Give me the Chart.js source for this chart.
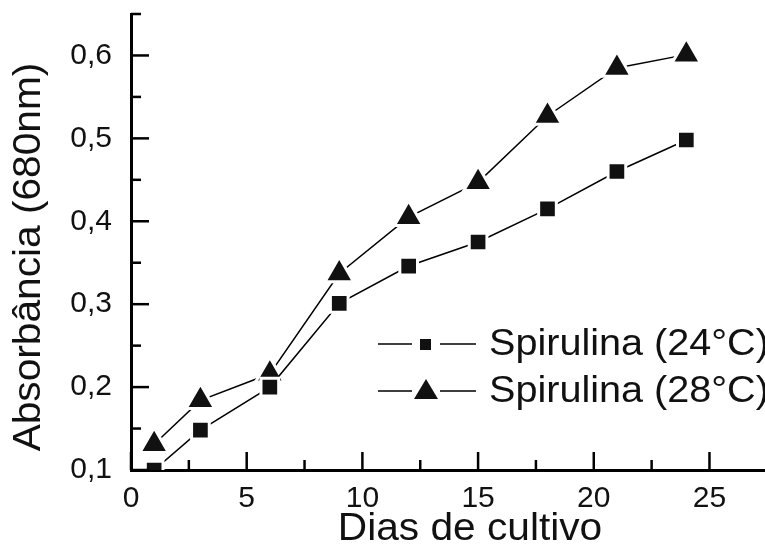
<!DOCTYPE html>
<html>
<head>
<meta charset="utf-8">
<script src="https://cdn.jsdelivr.net/npm/chart.js@4"></script>
<style>
  html, body { margin: 0; padding: 0; background: #fff; overflow: hidden; }
  #wrap { width: 765px; height: 555px; }
</style>
</head>
<body>
<div id="wrap"><canvas id="chart"></canvas></div>
<script>
'use strict';

// data
let dias = [1, 3, 6, 9, 12, 15, 18, 21, 24];
let spir24 = [0.100, 0.148, 0.200, 0.301, 0.346, 0.375, 0.415, 0.460, 0.498];
let spir28 = [0.131, 0.184, 0.216, 0.337, 0.405, 0.447, 0.527, 0.585, 0.601];
let xTicks = [0, 5, 10, 15, 20, 25];
let yTicks = [0.1, 0.2, 0.3, 0.4, 0.5, 0.6];
let seriesNames = ['Spirulina (24°C)', 'Spirulina (28°C)'];
let xTitle = 'Dias de cultivo';
let yTitle = 'Absorbância (680nm)';

let canvasElem = document.getElementById('chart');
const FONT = 'Liberation Sans, Arial, sans-serif';
const STRETCH = 1.07; // the scanned text is a little wider than Liberation Sans

function toPoints(xs, ys) {
  let pts = [];
  for (let i = 0; i < xs.length; i++) {
    pts.push({ x: xs[i], y: ys[i] });
  }
  return pts;
}

// wide text helper: draws text stretched along its own direction
function wideText(ctx, text, x, y, size, align, angle) {
  ctx.save();
  ctx.translate(x, y);
  if (angle) ctx.rotate(angle);
  ctx.scale(STRETCH, 1);
  ctx.font = size + 'px ' + FONT;
  ctx.fillStyle = '#111';
  ctx.textAlign = align;
  ctx.textBaseline = 'middle';
  ctx.fillText(text, 0, 0);
  ctx.restore();
}

// inward ticks, major + minor, like the Origin plot
let tickPlugin = {
  id: 'inTicks',
  afterDraw(chart) {
    let ctx = chart.ctx;
    let xs = chart.scales.x;
    let ys = chart.scales.y;
    let area = chart.chartArea;
    ctx.save();
    ctx.strokeStyle = '#000';
    ctx.lineWidth = 2.5;
    for (let v = 0; v <= 27; v += 2.5) {
      let px = xs.getPixelForValue(v);
      let len = (v % 5 === 0) ? 18 : 10;
      ctx.beginPath();
      ctx.moveTo(px, area.bottom);
      ctx.lineTo(px, area.bottom - len);
      ctx.stroke();
    }
    for (let k = 2; k <= 13; k++) {
      let v = k * 0.05;
      let py = ys.getPixelForValue(v);
      let len = (k % 2 === 0) ? 18 : 10;
      ctx.beginPath();
      ctx.moveTo(area.left, py);
      ctx.lineTo(area.left + len, py);
      ctx.stroke();
    }
    ctx.restore();

    // axis titles (not centred on the plot area in the original)
    wideText(ctx, xTitle, 470, 530, 38, 'center', 0);
    wideText(ctx, yTitle, 30, 257, 38, 'center', -Math.PI / 2);
  }
};

// legend: line - marker - line, then the name
let legendPlugin = {
  id: 'lineLegend',
  afterDraw(chart) {
    let ctx = chart.ctx;
    ctx.save();
    let rows = [344, 391];
    chart.data.datasets.forEach(function (ds, i) {
      let y = rows[i];
      ctx.strokeStyle = '#000';
      ctx.lineWidth = 1.5;
      ctx.beginPath();
      ctx.moveTo(378, y);
      ctx.lineTo(412, y);
      ctx.moveTo(440, y);
      ctx.lineTo(476, y);
      ctx.stroke();
      ctx.fillStyle = '#111';
      ctx.beginPath();
      if (ds.pointStyle === 'rect') {
        ctx.rect(420, y - 5, 11, 11);
      } else {
        ctx.moveTo(426, y - 12);
        ctx.lineTo(438, y + 8);
        ctx.lineTo(414, y + 8);
        ctx.closePath();
      }
      ctx.fill();
      wideText(ctx, ds.label, 489, y + 1, 37, 'left', 0);
    });
    ctx.restore();
  }
};

let chartObj = {
  type: 'line',
  data: {
    datasets: [
      {
        label: seriesNames[0],
        data: toPoints(dias, spir24),
        borderColor: '#000',
        borderWidth: 1.5,
        pointStyle: 'rect',
        pointRadius: 12.5,
        pointBackgroundColor: '#111',
        pointBorderColor: '#fff',
        pointBorderWidth: 3
      },
      {
        label: seriesNames[1],
        data: toPoints(dias, spir28),
        borderColor: '#000',
        borderWidth: 1.5,
        pointStyle: 'triangle',
        pointRadius: 16.5,
        pointBackgroundColor: '#111',
        pointBorderColor: '#fff',
        pointBorderWidth: 3
      }
    ]
  },
  options: {
    responsive: true,
    maintainAspectRatio: false,
    animation: false,
    layout: {
      autoPadding: false,
      padding: { top: 14, right: 0, left: 0, bottom: 0 }
    },
    plugins: {
      legend: { display: false },
      tooltip: { enabled: false }
    },
    scales: {
      x: {
        type: 'linear',
        min: 0,
        max: 27.4,
        afterBuildTicks(scale) {
          scale.ticks = xTicks.map(function (v) { return { value: v }; });
        },
        afterFit(scale) {
          scale.height = 85;
          scale.paddingLeft = 0;
          scale.paddingRight = 0;
        },
        grid: { display: false, drawTicks: false },
        border: { display: true, color: '#000', width: 3 },
        ticks: {
          color: '#111',
          font: { family: FONT, size: 30 },
          padding: 11,
          maxRotation: 0,
          callback: function (v) { return String(v); }
        },
        title: { display: false }
      },
      y: {
        type: 'linear',
        min: 0.1,
        max: 0.65,
        afterBuildTicks(scale) {
          scale.ticks = yTicks.map(function (v) { return { value: v }; });
        },
        afterFit(scale) {
          scale.width = 131;
          scale.paddingTop = 0;
          scale.paddingBottom = 0;
        },
        grid: { display: false, drawTicks: false },
        border: { display: true, color: '#000', width: 3 },
        ticks: {
          color: '#111',
          font: { family: FONT, size: 30 },
          padding: 19,
          callback: function (v) { return v.toFixed(1).replace('.', ','); }
        },
        title: { display: false }
      }
    }
  },
  plugins: [tickPlugin, legendPlugin]
};

new Chart(canvasElem, chartObj);
</script>
</body>
</html>
